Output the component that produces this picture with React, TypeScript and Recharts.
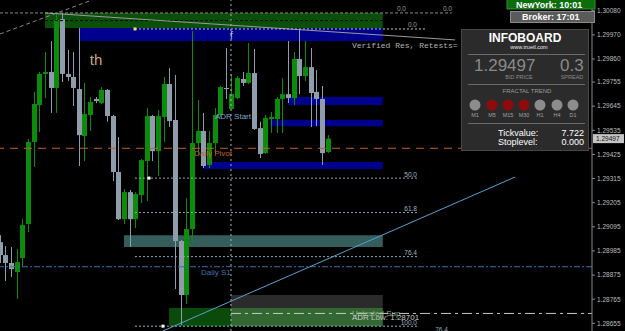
import React from "react";
import { ComposedChart, Bar, XAxis, YAxis, ReferenceArea, ReferenceLine, ReferenceDot } from "recharts";

// bar data (price, 5 digits)
const highs = [
  1.29057, 1.29007, 1.29003, 1.28994, 1.2913, 1.29495, 1.2971, 1.29801, 1.29892, 1.29942,
  1.30065, 1.3007, 1.29901, 1.29892, 1.30001, 1.29751, 1.29687, 1.29687, 1.29732, 1.29723,
  1.29605, 1.29504, 1.29267, 1.29263, 1.29253, 1.29404, 1.29637, 1.29605, 1.29627, 1.29778,
  1.29819, 1.29787, 1.29035, 1.29226, 1.29988, 1.29673, 1.29614, 1.29532, 1.29637, 1.29737,
  1.2991, 1.29792, 1.29782, 1.29801, 1.29933, 1.29906, 1.29574, 1.29605, 1.29618, 1.29687,
  1.29773, 1.29942, 1.29892, 1.29992, 1.29942, 1.2991, 1.2981, 1.29737, 1.29513,
];
const opens = [
  1.29025, 1.28966, 1.2893, 1.28889, 1.28953, 1.29108, 1.29482, 1.2965, 1.29792, 1.29801,
  1.29728, 1.30042, 1.29792, 1.29778, 1.29723, 1.29509, 1.29605, 1.29678, 1.29659, 1.29719,
  1.296, 1.29345, 1.2913, 1.29253, 1.2913, 1.2924, 1.29395, 1.296, 1.2944, 1.29596,
  1.29746, 1.29582, 1.2903, 1.28784, 1.29085, 1.29477, 1.29532, 1.29377, 1.29477, 1.29605,
  1.29728, 1.29632, 1.29682, 1.29769, 1.29751, 1.29796, 1.29545, 1.29431, 1.29586, 1.29586,
  1.29678, 1.297, 1.29682, 1.2986, 1.29782, 1.29823, 1.2971, 1.29678, 1.29436,
];
const closes = [
  1.28966, 1.2893, 1.28902, 1.28934, 1.29103, 1.29482, 1.29655, 1.29792, 1.29801, 1.29728,
  1.30038, 1.29792, 1.29778, 1.29728, 1.29513, 1.29609, 1.29664, 1.29668, 1.29719, 1.296,
  1.29345, 1.2913, 1.29253, 1.2913, 1.29244, 1.29399, 1.296, 1.2944, 1.296, 1.29746,
  1.29577, 1.2903, 1.28784, 1.29085, 1.29477, 1.29532, 1.29372, 1.29477, 1.29605, 1.29732,
  1.29723, 1.297, 1.29773, 1.29751, 1.29796, 1.29541, 1.29427, 1.29591, 1.29596, 1.29678,
  1.297, 1.29682, 1.2986, 1.29782, 1.29823, 1.29705, 1.29678, 1.29431, 1.29497,
];
const lows = [
  1.2893, 1.28848, 1.28866, 1.28766, 1.28912, 1.29071, 1.29368, 1.29527, 1.29682, 1.29614,
  1.29614, 1.29755, 1.2976, 1.29646, 1.29372, 1.29395, 1.29532, 1.29659, 1.29655, 1.29574,
  1.29304, 1.29126, 1.29108, 1.29003, 1.29089, 1.29203, 1.29212, 1.29395, 1.29326, 1.29482,
  1.2955, 1.28811, 1.28647, 1.28743, 1.29025, 1.29422, 1.29363, 1.29363, 1.29431, 1.29596,
  1.29678, 1.29627, 1.29678, 1.29737, 1.29746, 1.29537, 1.29409, 1.29427, 1.29523, 1.29523,
  1.29523, 1.29659, 1.2965, 1.297, 1.2976, 1.2955, 1.29554, 1.29377, 1.29431,
];

const priceTicks = [
  1.3008, 1.2997, 1.2986, 1.29755, 1.29645, 1.29535, 1.29425, 1.29315, 1.29205, 1.29095,
  1.28985, 1.28875, 1.28765, 1.28655,
];

const bidPrice = 1.29497;
const spread = 0.3;
const dailyPivot = 1.29453;
const dailyS1 = 1.28913;
const adrLow = 1.287;
const fibNames = ["50.0", "61.8", "76.4", "100.0"];
const fibLevels = [1.29317, 1.2916, 1.28959, 1.28642];

// zones: bar index from/to, price low/high
const blueZones = [
  { from: 14.97, to: 68.7, lo: 1.29942, hi: 1.30001 },
  { from: 51.9, to: 68.7, lo: 1.2965, hi: 1.29687 },
  { from: 48.75, to: 68.7, lo: 1.29554, hi: 1.29582 },
  { from: 36.9, to: 68.7, lo: 1.29358, hi: 1.2939 },
];
const resZone = { from: 8.96, to: 68.7, lo: 1.30001, hi: 1.3007 };
const tealZone = { from: 22.93, to: 68.7, lo: 1.29003, hi: 1.29057 };
const supZone = { from: 30.9, to: 68.7, lo: 1.28642, hi: 1.28725 };
const greyZone = { from: 41.85, to: 68.7, lo: 1.28642, hi: 1.28784 };

const timeframes = ["M1", "M5", "M15", "M30", "H1", "H4", "D1"];
const fractalDown = [false, true, true, true, false, false, false];

const candles = highs.map((h, k) => ({
  i: k + 1,
  high: h,
  open: opens[k],
  close: closes[k],
  low: lows[k],
}));

const UP = "#0b8c0b";
const DOWN = "#8f9cab";
const FONT = "Liberation Sans, Arial, sans-serif";

function Candle(props: any) {
  const { x, y, width, height, payload } = props;
  if (y == null || height == null) return null;
  const top = Math.min(y, y + height);
  const h = Math.abs(height);
  const { open, close, high, low } = payload;
  const py = (p: number) => top + ((high - p) / (high - low)) * h;
  const color = close >= open ? UP : DOWN;
  const cx = Math.round(x + width / 2);
  const bt = py(Math.max(open, close));
  const bb = py(Math.min(open, close));
  return (
    <g>
      <rect x={cx} y={top} width={1} height={h} fill={color} />
      <rect x={cx - 2} y={bt} width={5} height={Math.max(1, bb - bt)} fill={color} />
    </g>
  );
}

function txt(key: string, x: number, y: number, text: string, color: string, size: number, anchor = "start", family = FONT) {
  return (
    <ReferenceDot
      key={key}
      x={x}
      y={y}
      r={0}
      ifOverflow="visible"
      shape={(p: any) => (
        <text x={p.cx} y={p.cy} fill={color} fontSize={size} fontFamily={family} textAnchor={anchor}>
          {text}
        </text>
      )}
    />
  );
}

function mark(key: string, x: number, y: number, color: string) {
  return (
    <ReferenceDot
      key={key}
      x={x}
      y={y}
      r={0}
      shape={(p: any) => <rect x={p.cx - 1.5} y={p.cy - 1.5} width={3} height={3} fill={color} />}
    />
  );
}

function PriceTag(props: any) {
  const { viewBox } = props;
  const yy = viewBox.y;
  const xx = viewBox.x + viewBox.width;
  return (
    <g>
      <rect x={xx + 1} y={yy - 4.5} width={31} height={9} fill="#c4c4c4" />
      <text x={xx + 4} y={yy + 2.5} fontSize={6.5} fontFamily={FONT} fill="#111">
        {bidPrice.toFixed(5)}
      </text>
    </g>
  );
}

function Infoboard() {
  const cxs = [475, 492, 508, 524, 540, 557, 573];
  return (
    <svg width={625} height={331} style={{ position: "absolute", left: 0, top: 0, pointerEvents: "none" }}>
      <rect x={507} y={-5} width={88} height={14} fill="#0b6e0b" stroke="#3a8a3a" />
      <text x={516} y={8} fill="#fff" fontSize={9} fontWeight="bold" fontFamily={FONT}>NewYork: 10:01</text>
      <rect x={510.5} y={11.5} width={84} height={11} fill="#5a5a5a" stroke="#8a8a8a" />
      <text x={522} y={20} fill="#fff" fontSize={9} fontWeight="bold" fontFamily={FONT}>Broker: 17:01</text>

      <rect x={461.5} y={29.5} width={127} height={121} fill="#2b2b2b" stroke="#474747" />
      <text x={525} y={42} textAnchor="middle" fill="#fff" fontSize={12} fontWeight="bold" fontFamily={FONT}>INFOBOARD</text>
      <text x={529} y={49} textAnchor="middle" fill="#e8e8e8" fontSize={5.5} fontFamily={FONT}>www.truetl.com</text>
      <line x1={468} x2={585} y1={54.5} y2={54.5} stroke="#6a6a6a" />
      <text x={474} y={71} fill="#8a8a8a" fontSize={17} fontFamily={FONT}>{bidPrice.toFixed(5)}</text>
      <text x={560} y={71} fill="#8a8a8a" fontSize={17} fontFamily={FONT}>{spread.toFixed(1)}</text>
      <text x={519} y={79} textAnchor="middle" fill="#8a8a8a" fontSize={5.5} fontFamily={FONT}>BID PRICE</text>
      <text x={572} y={79} textAnchor="middle" fill="#8a8a8a" fontSize={5.5} fontFamily={FONT}>SPREAD</text>
      <line x1={468} x2={585} y1={84.5} y2={84.5} stroke="#6a6a6a" />
      <text x={527} y={93} textAnchor="middle" fill="#9a9a9a" fontSize={6} fontFamily={FONT}>FRACTAL TREND</text>
      {timeframes.map((tf, k) => (
        <g key={tf}>
          <circle cx={cxs[k]} cy={105} r={5.5} fill={fractalDown[k] ? "#8e0b0b" : "#8c8c8c"} />
          <text x={cxs[k]} y={117} textAnchor="middle" fill="#a0a0a0" fontSize={5.5} fontFamily={FONT}>{tf}</text>
        </g>
      ))}
      <line x1={468} x2={585} y1={123.5} y2={123.5} stroke="#6a6a6a" />
      <text x={498} y={136} fill="#fff" fontSize={9} fontFamily={FONT}>Tickvalue:</text>
      <text x={584} y={136} textAnchor="end" fill="#fff" fontSize={9} fontFamily={FONT}>7.722</text>
      <text x={498} y={145} fill="#fff" fontSize={9} fontFamily={FONT}>Stoplevel:</text>
      <text x={584} y={145} textAnchor="end" fill="#fff" fontSize={9} fontFamily={FONT}>0.000</text>
    </svg>
  );
}

export default function App() {
  return (
    <div style={{ position: "fixed", left: 0, top: 0, width: 625, height: 331, background: "#000", overflow: "hidden" }}>
      <ComposedChart width={625} height={331} data={candles} margin={{ top: 0, right: 0, bottom: 0, left: 0 }}>
        <XAxis dataKey="i" type="number" domain={[1, 105.7]} hide allowDataOverflow />
        <YAxis
          orientation="right"
          width={33}
          domain={[1.2862, 1.30129]}
          allowDataOverflow
          ticks={priceTicks}
          interval={0}
          tickFormatter={(v: number) => v.toFixed(5)}
          tick={{ fontSize: 6.5, fill: "#bdbdbd", fontFamily: FONT }}
          tickSize={3}
          tickLine={{ stroke: "#8a8a8a" }}
          axisLine={{ stroke: "#8a8a8a" }}
        />

        <ReferenceArea x1={resZone.from} x2={resZone.to} y1={resZone.lo} y2={resZone.hi} fill="#0a500a" fillOpacity={1} stroke="none" />
        {blueZones.map((z, k) => (
          <ReferenceArea key={"b" + k} x1={z.from} x2={z.to} y1={z.lo} y2={z.hi} fill="#00008e" fillOpacity={1} stroke="none" />
        ))}
        <ReferenceArea x1={tealZone.from} x2={tealZone.to} y1={tealZone.lo} y2={tealZone.hi} fill="#335e5c" fillOpacity={1} stroke="none" />
        <ReferenceArea x1={supZone.from} x2={supZone.to} y1={supZone.lo} y2={1.28725} fill="#0a4a0a" fillOpacity={1} stroke="none" />
        <ReferenceArea x1={greyZone.from} x2={greyZone.to} y1={greyZone.lo} y2={greyZone.hi} fill="#ffffff" fillOpacity={0.17} stroke="none" />

        <ReferenceLine segment={[{ x: 1, y: 1.3007 }, { x: 80.9, y: 1.3007 }]} stroke="#8a8a8a" strokeDasharray="3 2" />
        <ReferenceLine segment={[{ x: 8.96, y: 1.30035 }, { x: 68.7, y: 1.30035 }]} stroke="#000" strokeDasharray="3 2" />
        <ReferenceLine segment={[{ x: 8.96, y: 1.3007 }, { x: 81.5, y: 1.29947 }]} stroke="#9a9a9a" />
        <ReferenceLine segment={[{ x: 1, y: 1.29974 }, { x: 17.3, y: 1.30129 }]} stroke="#8a8a8a" strokeDasharray="4 3" ifOverflow="visible" />
        <ReferenceLine segment={[{ x: 24.87, y: 1.29997 }, { x: 76.5, y: 1.29997 }]} stroke="#c8c8a0" strokeDasharray="2 2" />

        <ReferenceLine y={dailyPivot} stroke="#c0602a" strokeDasharray="8 6" />
        <ReferenceLine y={dailyS1} stroke="#3a70a8" strokeDasharray="6 2 2 2" />
        <ReferenceLine segment={[{ x: 41.85, y: adrLow }, { x: 105.7, y: adrLow }]} stroke="#c8c8c8" strokeDasharray="10 4 3 4" />
        {fibLevels.map((lv, k) => (
          <ReferenceLine key={"f" + k} segment={[{ x: 24.87, y: lv }, { x: 74.9, y: lv }]} stroke={k === 3 ? "#8fb4cc" : "#9aa6b4"} strokeDasharray="2 2" />
        ))}
        <ReferenceLine segment={[{ x: 29.8, y: 1.2862 }, { x: 92.1, y: 1.29322 }]} stroke="#5aa0d0" />

        {txt("th", 17.98, 1.29833, "th", "#c8a880", 15, "middle")}
        {txt("f", 41.67, 1.29951, "f", "#c0c0c0", 10)}
        {txt("vr", 63.25, 1.2991, "Verified Res, Retests=", "#b4b4b4", 8, "start", "Liberation Mono, monospace")}
        {txt("z1", 72.8, 1.30077, "0.0", "#9a9a9a", 6.5, "end")}
        {txt("z2", 80.93, 1.30077, "0.0", "#9a9a9a", 6.5, "end")}
        {txt("z3", 74.74, 1.30006, "0.0", "#9a9a9a", 6.5, "end")}
        {txt("adr", 39.02, 1.29586, "ADR Start", "#7ea6c8", 8)}
        {txt("pv", 42.03, 1.29418, "Daily Pivot", "#c0622a", 8, "end")}
        {txt("s1", 36.54, 1.28875, "Daily S1", "#3f74ad", 8)}
        {fibNames.map((n, k) => txt("fn" + k, 74.74, fibLevels[k] + 0.00006, n, "#a6b2c0", 6.5, "end"))}
        {txt("us", 63.25, 1.28688, "Untested Sup", "#8fb08f", 8)}
        {txt("al", 63.25, 1.2867, "ADR Low: " + adrLow.toFixed(5).replace(/0$/, "1"), "#c8c8c8", 8)}
        {txt("b76", 80.2, 1.28615, "76.4", "#9aa6b4", 6.5, "end")}
        {mark("m1", 24.87, 1.29997, "#f0e060")}
        {mark("m2", 27.35, 1.29317, "#ffffff")}
        {mark("m3", 29.82, 1.28642, "#ffffff")}

        <Bar dataKey={(d: any) => [d.low, d.high]} barSize={5} shape={<Candle />} isAnimationActive={false} />

        <ReferenceLine x={41.85} stroke="#b0b0b0" strokeDasharray="2 3" />
        <ReferenceLine y={bidPrice} stroke="none" label={<PriceTag />} />
      </ComposedChart>
      <Infoboard />
    </div>
  );
}
